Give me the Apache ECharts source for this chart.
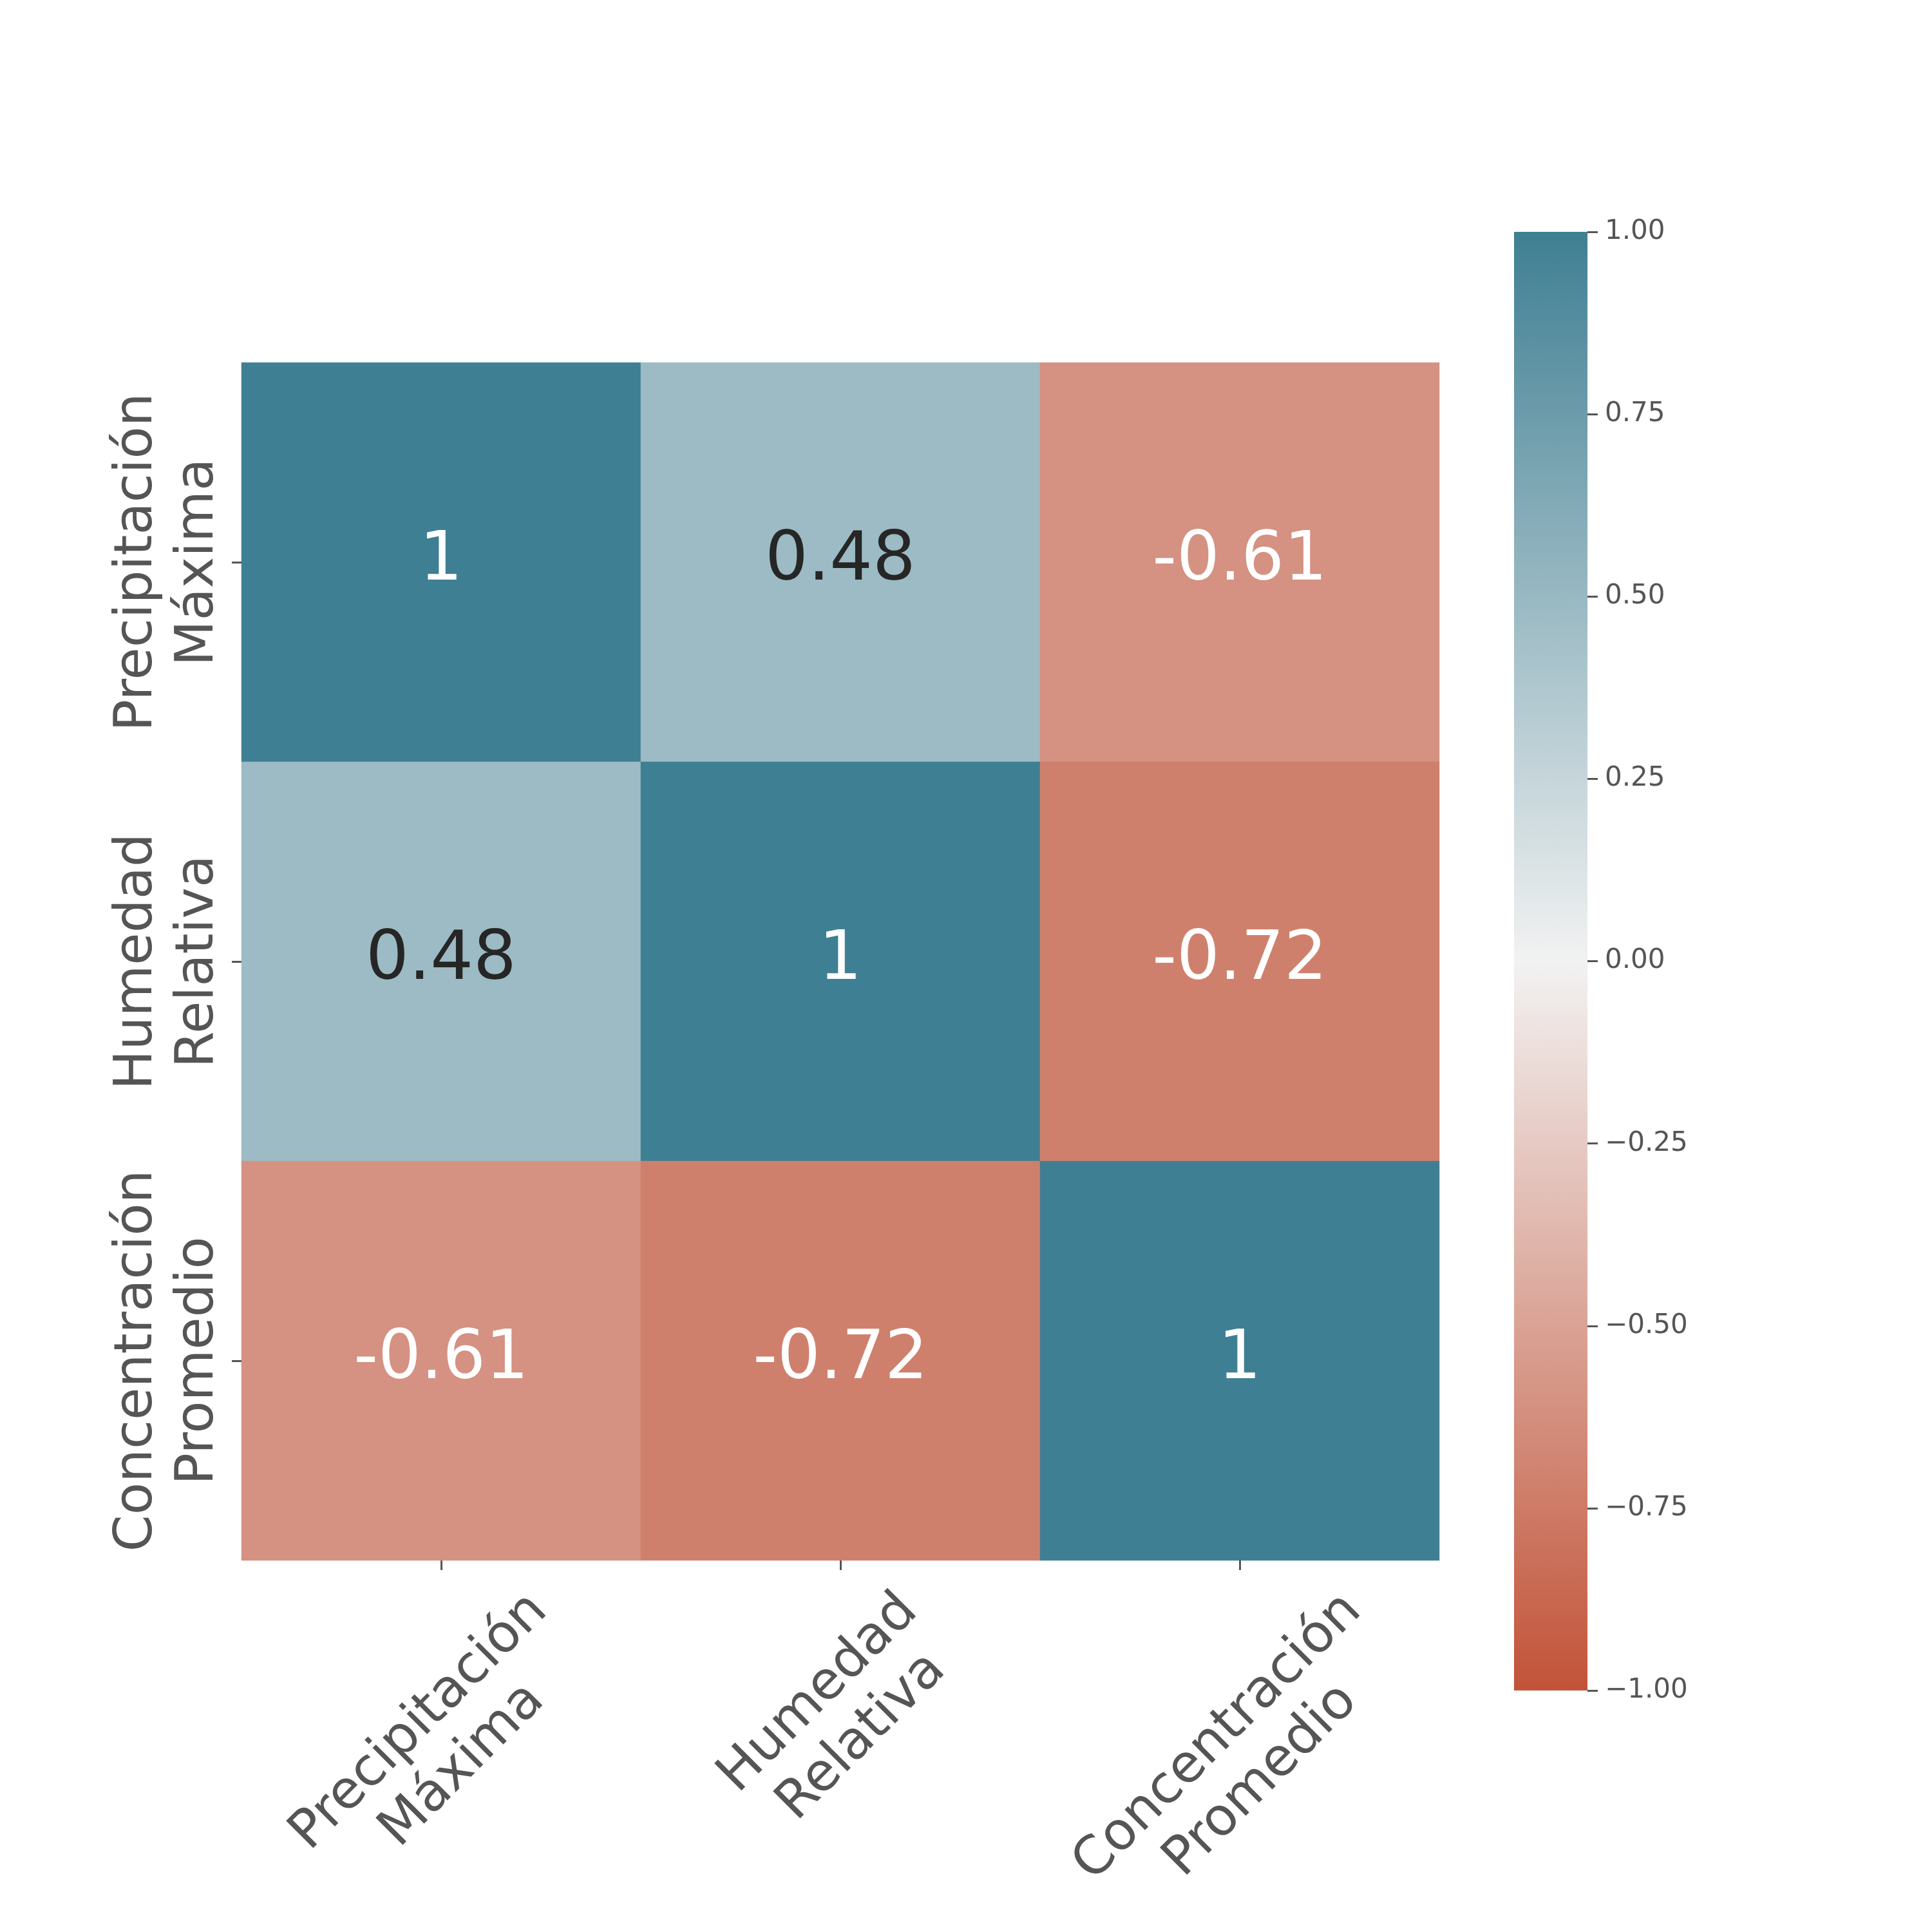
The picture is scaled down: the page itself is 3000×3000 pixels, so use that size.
<!DOCTYPE html>
<html>
<head>
<meta charset="utf-8">
<script src="https://cdn.jsdelivr.net/npm/echarts@6/dist/echarts.min.js"></script>
<style>
html, body { margin: 0; padding: 0; background: #ffffff; }
#chart { width: 3000px; height: 3000px; }
</style>
</head>
<body>
<div id="chart"></div>
<script>
// ---- data ----
const variables = ['Precipitación\nMáxima', 'Humedad\nRelativa', 'Concentración\nPromedio'];
const rowPrecipitacion = [1, 0.48, -0.61];
const rowHumedad = [0.48, 1, -0.72];
const rowConcentracion = [-0.61, -0.72, 1];
const corrRows = [rowPrecipitacion, rowHumedad, rowConcentracion];
const colorbarMin = -1;
const colorbarMax = 1;
const colorbarStep = 0.25;

// ---- build heatmap data ----
const heatData = [];
corrRows.forEach((row, yi) => {
  row.forEach((v, xi) => heatData.push([xi, yi, v]));
});

const FONT = 'DejaVu Sans';
const GRAY = '#555555';
const LABEL_SIZE = 82;
const LABEL_LH = 95;
const CMAP = ['#c25338', '#f2f2f2', '#3f7f93'];

// Emulate matplotlib's rotated tick labels (bbox top aligned under the axis):
// longer labels sit lower, so shift their centre down using rich-text spacers.
const measureCtx = document.createElement('canvas').getContext('2d');
measureCtx.font = LABEL_SIZE + 'px "' + FONT + '"';
const labelWidths = variables.map(v => Math.max(...v.split('\n').map(l => measureCtx.measureText(l).width)));
const minW = Math.min(...labelWidths);
const xRich = { t: { fontFamily: FONT, fontSize: LABEL_SIZE, lineHeight: LABEL_LH, color: GRAY } };
labelWidths.forEach((w, i) => {
  const sp = Math.max(0, 0.5 * (w - minW));
  xRich['g' + i] = { fontSize: 1, lineHeight: Math.max(1, sp), width: 1 };
  xRich['p' + i] = { fontSize: 1, width: Math.max(1, sp) };
});
const xFormatter = (value, index) => {
  const lines = value.split('\n').map(l => '{t|' + l + '}{p' + index + '| }');
  return '{g' + index + '| }\n' + lines.join('\n');
};

const chart = echarts.init(document.getElementById('chart'));
chart.setOption({
  backgroundColor: '#ffffff',
  animation: false,
  grid: [
    { left: 375, top: 563, width: 1860, height: 1860, containLabel: false, outerBoundsMode: 'none' },
    { left: 2351, top: 360, width: 114, height: 2265, containLabel: false, outerBoundsMode: 'none' }
  ],
  graphic: [{
    type: 'rect', left: 2351, top: 360, silent: true, z: 0,
    shape: { width: 114, height: 2265 },
    style: {
      fill: new echarts.graphic.LinearGradient(0, 0, 0, 1, [
        { offset: 0, color: CMAP[2] },
        { offset: 0.5, color: CMAP[1] },
        { offset: 1, color: CMAP[0] }
      ])
    }
  }],
  xAxis: [
    {
      type: 'category', gridIndex: 0,
      data: variables,
      position: 'bottom',
      axisLine: { show: false },
      splitLine: { show: false },
      axisTick: { show: true, alignWithLabel: true, length: 15, lineStyle: { color: GRAY, width: 3 } },
      axisLabel: {
        interval: 0, rotate: 45, margin: 240, align: 'center', verticalAlign: 'middle',
        hideOverlap: false,
        fontFamily: FONT, fontSize: LABEL_SIZE, color: GRAY,
        formatter: xFormatter, rich: xRich
      }
    },
    { type: 'value', gridIndex: 1, show: false, min: 0, max: 1 }
  ],
  yAxis: [
    {
      type: 'category', gridIndex: 0, data: variables, inverse: true,
      axisLine: { show: false },
      splitLine: { show: false },
      axisTick: { show: true, alignWithLabel: true, length: 15, lineStyle: { color: GRAY, width: 3 } },
      axisLabel: {
        interval: 0, rotate: 90, margin: 19,
        fontFamily: FONT, fontSize: LABEL_SIZE, lineHeight: LABEL_LH, color: GRAY
      }
    },
    {
      type: 'value', gridIndex: 1, position: 'right',
      min: colorbarMin, max: colorbarMax, interval: colorbarStep,
      axisLine: { show: false, onZero: false },
      splitLine: { show: false },
      axisTick: { show: true, length: 16, lineStyle: { color: GRAY, width: 3 } },
      axisLabel: {
        margin: 27, fontFamily: FONT, fontSize: 42, color: GRAY, padding: [4, 0, 0, 0],
        formatter: v => (v < 0 ? '\u2212' : '') + Math.abs(v).toFixed(2)
      }
    }
  ],
  visualMap: {
    type: 'continuous', seriesIndex: 0, show: false,
    min: colorbarMin, max: colorbarMax,
    inRange: { color: CMAP }
  },
  series: [{
    type: 'heatmap', xAxisIndex: 0, yAxisIndex: 0,
    data: heatData,
    itemStyle: { borderWidth: 0 },
    emphasis: { disabled: true },
    label: {
      show: true,
      fontFamily: FONT, fontSize: 105,
      formatter: p => {
        const v = p.value[2];
        const dark = v > -0.5 && v < 0.6;
        return (dark ? '{d|' : '{w|') + String(v) + '}';
      },
      rich: {
        d: { color: '#262626', fontFamily: FONT, fontSize: 105 },
        w: { color: '#ffffff', fontFamily: FONT, fontSize: 105 }
      }
    }
  }]
});
</script>
</body>
</html>
